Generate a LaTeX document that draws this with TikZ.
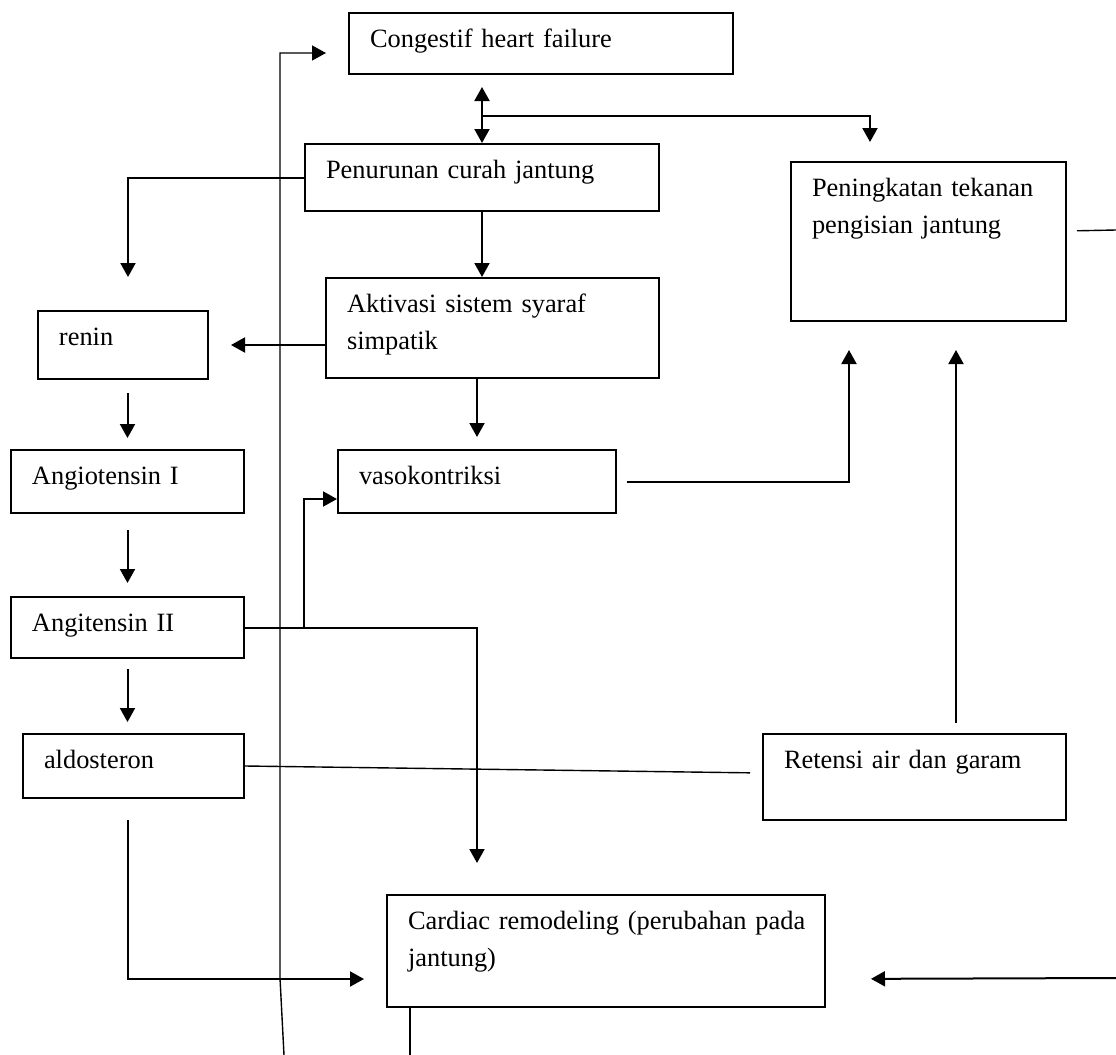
\documentclass[tikz,border=0pt]{standalone}
\usepackage{fontspec}
\setmainfont{Liberation Serif}
\usetikzlibrary{arrows.meta}
\tikzset{
  box/.style={draw,line width=1pt,anchor=north west,align=left,inner xsep=10.5pt,inner ysep=0pt,text height=17pt,font=\fontsize{13.2}{18.5}\selectfont},
  thinline/.style={line width=0.7pt}
}
\begin{document}
\begin{tikzpicture}[x=0.5pt,y=-0.5pt,line width=1pt,>={Triangle[length=7pt,width=7.5pt]}]
\useasboundingbox (0,0) rectangle (1116,1055);
\node[box,text width=171pt,text depth=13.5pt] (chf) at (348,12) {Congestif heart failure};
\node[box,text width=156pt,text depth=16.5pt] (pen) at (304,143) {Penurunan curah jantung};
\node[box,text width=116.5pt,text depth=62.5pt] (pnk) at (790,161) {Peningkatan tekanan\\pengisian jantung};
\node[box,text width=145.5pt,text depth=33pt] (akt) at (325,277) {Aktivasi sistem syaraf\\simpatik};
\node[box,text width=64pt,text depth=17pt] (ren) at (37,310) {renin};
\node[box,text width=95.5pt,text depth=14.5pt] (ang1) at (10,449) {Angiotensin I};
\node[box,text width=118pt,text depth=14.5pt] (vas) at (337,449) {vasokontriksi};
\node[box,text width=95.5pt,text depth=13.5pt] (ang2) at (10,596) {Angitensin II};
\node[box,text width=89.5pt,text depth=15pt] (ald) at (22,733) {aldosteron};
\node[box,text width=130.5pt,text depth=26pt] (ret) at (762,733) {Retensi air dan garam};
\node[box,text width=198pt,text depth=39pt] (car) at (386,894) {\mbox{Cardiac remodeling (perubahan pada}\\jantung)};
\coordinate (pedge) at (1116,230);
\coordinate (redge) at (1116,978);
\coordinate (cbot) at (410,1055);
\coordinate (lbot) at (284,1055);
\coordinate (vj) at (304,626.5);
\draw[<->,shorten <=6pt] (pen.north |- chf.south) -- (pen.north);
\draw[->,shorten >=9.5pt] ([yshift=13.5pt]pen.north) -| ([xshift=-29.25pt]pnk.north);
\draw[->,shorten >=16.5pt] (pen.west) -| ([xshift=2.5pt]ren.north);
\draw[->] (pen.south) -- (pen.south |- akt.north);
\draw[->,shorten >=11pt] (akt.west |- ren.east) -- (ren.east);
\draw[->,shorten >=6pt] (akt.south -| vas.north) -- (vas.north);
\draw[->,shorten <=6.5pt,shorten >=5.5pt] (ang1.north |- ren.south) -- (ang1.north);
\draw[->,shorten <=8pt,shorten >=6.5pt] (ang1.south) -- (ang2.north);
\draw[->,shorten <=5pt,shorten >=5.5pt] (ang2.south) -- (ang2.south |- ald.north);
\draw[->,shorten >=15.5pt] (ang2.east) -| (vas.south |- car.north);
\draw[->] (vj) |- ([yshift=-8.75pt]vas.west);
\draw[->,shorten <=5pt,shorten >=14pt] (vas.east) -| ([xshift=-39.75pt]pnk.south);
\draw[->,shorten <=5pt,shorten >=14pt] ([xshift=13.75pt]pnk.south |- ret.north) -- ([xshift=13.75pt]pnk.south);
\draw[thinline,shorten >=6pt] (ald.east) -- ([yshift=2pt]ret.west);
\draw[->,shorten <=10.5pt,shorten >=11pt] (ang2.south |- ald.south) |- ([yshift=-14pt]car.west);
\draw[->,shorten >=22.5pt] (redge) -- ([yshift=-14pt]car.east);
\draw[thinline,shorten <=5pt] ([yshift=5.25pt]pnk.east) -- (pedge);
\draw (cbot) -- ([xshift=12pt]car.south west);
\draw[->,thinline,shorten >=11pt] (lbot) -- ++(-4,-77) |- ([yshift=-4.75pt]chf.west);
\end{tikzpicture}
\end{document}
